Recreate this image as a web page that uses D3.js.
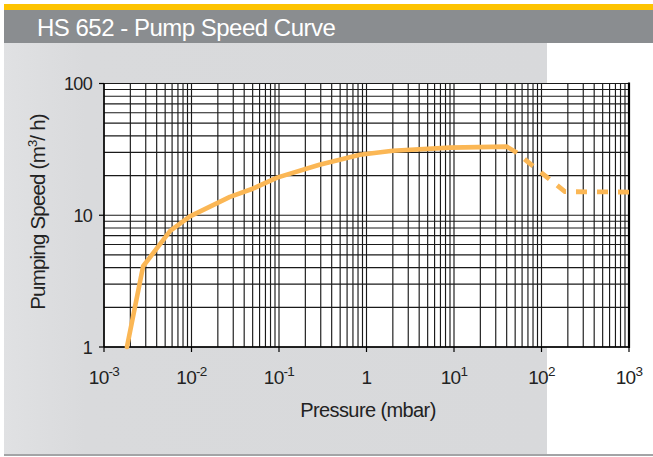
<!DOCTYPE html>
<html><head><meta charset="utf-8">
<script src="https://cdn.jsdelivr.net/npm/d3@7/dist/d3.min.js"></script>
<style>
html,body{margin:0;padding:0;background:#fff;}
svg{display:block;font-family:"Liberation Sans",Arial,Helvetica,sans-serif;}
</style></head>
<body><svg id="c" width="653" height="457"></svg>
<script>
// Data
const title = "HS 652 - Pump Speed Curve";
const xLabel = "Pressure (mbar)";
const yLabelMain = "Pumping Speed (m";
const yLabelSup = "3";
const yLabelEnd = "/ h)";
const xTickExp = [-3, -2, -1, 0, 1, 2, 3];
const yTickVals = [1, 10, 100];
// solid part of the curve
const pressureSolid = [0.00183, 0.0028, 0.0057, 0.0096, 0.0275, 0.05, 0.095, 0.29, 0.84, 2.0, 9.0, 40, 50];
const speedSolid    = [1, 4.1, 7.6, 9.8, 13.8, 15.9, 19.3, 24.2, 28.8, 30.9, 32.6, 33.2, 30.4];
// dashed part of the curve
const pressureDash = [50, 185, 1000];
const speedDash    = [30.4, 15.1, 15];

const svg = d3.select("#c");
const W = 653, H = 457;

// background panels
svg.append("rect").attr("x",4).attr("y",4).attr("width",W-4).attr("height",6).attr("fill","#fdc300");
svg.append("rect").attr("x",4).attr("y",10).attr("width",W-4).attr("height",33).attr("fill","#8a8d90");
const grad = svg.append("defs").append("linearGradient").attr("id","pg").attr("x1","0").attr("x2","1");
grad.append("stop").attr("offset","0").attr("stop-color","#e0e1e3");
grad.append("stop").attr("offset","0.15").attr("stop-color","#d9dadc");
grad.append("stop").attr("offset","1").attr("stop-color","#d8d9db");
svg.append("rect").attr("x",4).attr("y",43).attr("width",543).attr("height",411).attr("fill","url(#pg)");
svg.append("rect").attr("x",4).attr("y",454).attr("width",W-4).attr("height",2).attr("fill","#a3a4a6");

svg.append("text").attr("x",37).attr("y",36).attr("fill","#fff")
  .attr("font-size",24).attr("letter-spacing","-0.5px").text(title);

// scales
const x = d3.scaleLog().domain([1e-3, 1e3]).range([104, 629]);
const y = d3.scaleLog().domain([1, 100]).range([347, 83.5]);

// plot background
svg.append("rect").attr("x",x(1e-3)).attr("y",y(100)).attr("width",x(1e3)-x(1e-3)).attr("height",y(1)-y(100)).attr("fill","#fff");

// grid
const g = svg.append("g");
const xGrid = [];
xTickExp.slice(0,-1).forEach(e => { for (let m=1;m<10;m++) xGrid.push(m*Math.pow(10,e)); });
xGrid.push(1e3);
const yGrid = [];
[0,1].forEach(e => { for (let m=1;m<10;m++) yGrid.push(m*Math.pow(10,e)); });
yGrid.push(100);
g.selectAll(".vg").data(xGrid).join("line")
  .attr("x1",d=>x(d)).attr("x2",d=>x(d)).attr("y1",y(100)).attr("y2",y(1))
  .attr("stroke","#1a1a1a").attr("stroke-width",1.15);
g.selectAll(".hg").data(yGrid).join("line")
  .attr("y1",d=>y(d)).attr("y2",d=>y(d)).attr("x1",x(1e-3)).attr("x2",x(1e3))
  .attr("stroke","#1a1a1a").attr("stroke-width",1.15);
// frame
g.append("line").attr("x1",x(1e3)).attr("x2",x(1e3)).attr("y1",y(100)-1).attr("y2",y(1)+1).attr("stroke","#000").attr("stroke-width",2.2);
g.append("line").attr("x1",x(1e-3)).attr("x2",x(1e3)).attr("y1",y(1)).attr("y2",y(1)).attr("stroke","#000").attr("stroke-width",1.4);
g.append("line").attr("x1",x(1e-3)).attr("x2",x(1e-3)).attr("y1",y(100)).attr("y2",y(1)).attr("stroke","#000").attr("stroke-width",1.4);

// axes ticks
const xTickVals = xTickExp.map(e => Math.pow(10,e));
g.selectAll(".xt").data(xTickVals).join("line")
  .attr("x1",d=>x(d)).attr("x2",d=>x(d)).attr("y1",y(1)).attr("y2",y(1)+5)
  .attr("stroke","#000").attr("stroke-width",1.2);
g.selectAll(".yt").data(yTickVals).join("line")
  .attr("y1",d=>y(d)).attr("y2",d=>y(d)).attr("x1",x(1e-3)-5).attr("x2",x(1e-3))
  .attr("stroke","#000").attr("stroke-width",1.2);

// y tick labels
svg.selectAll(".yl").data(yTickVals).join("text")
  .attr("x",92).attr("y",d=>y(d)+6.5).attr("text-anchor","end")
  .attr("font-size",18).attr("letter-spacing","-0.7px").attr("fill","#222").text(d=>d);

// x tick labels
xTickExp.forEach((e,i) => {
  const t = svg.append("text").attr("x",x(Math.pow(10,e))).attr("y",384)
    .attr("text-anchor","middle").attr("font-size",19).attr("letter-spacing","-0.7px").attr("fill","#222");
  if (e === 0) { t.text("1"); }
  else {
    t.append("tspan").text("10");
    t.append("tspan").attr("font-size",13.5).attr("dy",-8).text(e < 0 ? "-" + Math.abs(e) : String(e));
  }
});

// axis titles
svg.append("text").attr("x",368).attr("y",417).attr("text-anchor","middle")
  .attr("font-size",20).attr("letter-spacing","-0.6px").attr("fill","#222").text(xLabel);
const yl = svg.append("text").attr("transform","translate(45,212) rotate(-90)").attr("text-anchor","middle")
  .attr("font-size",20.5).attr("letter-spacing","-0.8px").attr("fill","#222");
yl.append("tspan").text(yLabelMain);
yl.append("tspan").attr("font-size",13).attr("dy",-8).text(yLabelSup);
yl.append("tspan").attr("dy",8).text(yLabelEnd);

// curve
const line = d3.line().x(d=>x(d[0])).y(d=>y(d[1]));
const solid = pressureSolid.map((p,i)=>[p, speedSolid[i]]);
// dashed part drawn from the right end so that a dash ends on the frame
const dash = pressureDash.map((p,i)=>[p, speedDash[i]]).reverse();
svg.append("path").attr("d",line(solid)).attr("fill","none").attr("stroke","#fbb755")
  .attr("stroke-width",4.6).attr("stroke-linejoin","round").attr("stroke-linecap","round");
svg.append("path").attr("d",line(dash)).attr("fill","none").attr("stroke","#fbb755")
  .attr("stroke-width",4.8).attr("stroke-dasharray","11,10");
</script></body></html>
